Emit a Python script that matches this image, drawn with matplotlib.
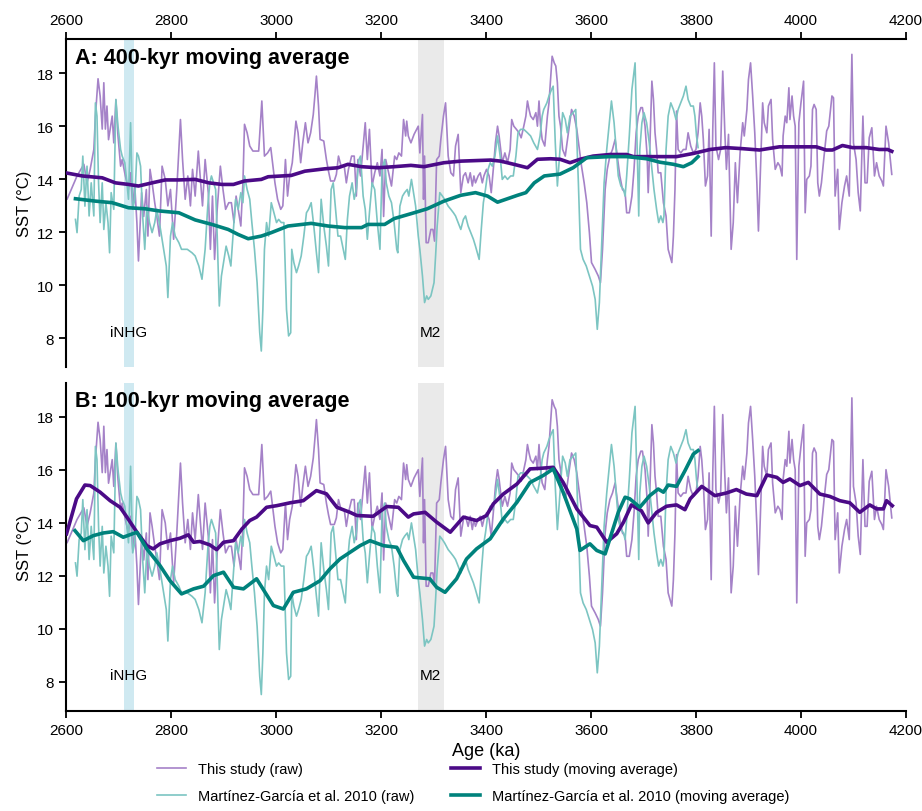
"""
SST records 2600-4200 ka: raw data with 400-kyr and 100-kyr moving averages
"""

import matplotlib
matplotlib.use("Agg")
import matplotlib.pyplot as plt
import numpy as np

plt.rcParams['font.family'] = ['Liberation Sans', 'DejaVu Sans']

# --- This study, raw SST (age ka, degC) ---
this_raw_age = [
    2600, 2602, 2621, 2634, 2640, 2646, 2653, 2656, 2661, 2665, 2669, 2672, 2675, 2678, 2681, 2688,
    2691, 2695, 2699, 2704, 2707, 2713, 2719, 2723, 2727, 2731, 2735, 2738, 2744, 2748, 2753, 2756,
    2760, 2764, 2769, 2773, 2778, 2783, 2789, 2794, 2799, 2805, 2811, 2818, 2822, 2827, 2832, 2837,
    2841, 2846, 2852, 2856, 2860, 2865, 2871, 2875, 2879, 2883, 2888, 2894, 2899, 2904, 2910, 2915,
    2920, 2924, 2928, 2933, 2937, 2940, 2945, 2950, 2956, 2967, 2973, 2978, 2984, 2990, 2998, 3003,
    3009, 3013, 3018, 3022, 3026, 3031, 3038, 3042, 3047, 3051, 3056, 3061, 3066, 3071, 3074, 3077,
    3081, 3084, 3091, 3096, 3100, 3104, 3111, 3115, 3119, 3124, 3130, 3134, 3138, 3144, 3149, 3153,
    3156, 3161, 3166, 3170, 3174, 3178, 3183, 3188, 3193, 3198, 3202, 3205, 3209, 3213, 3220, 3226,
    3230, 3234, 3239, 3243, 3247, 3249, 3252, 3257, 3263, 3271, 3274, 3279, 3281, 3283, 3286, 3290,
    3295, 3299, 3302, 3306, 3311, 3314, 3319, 3323, 3328, 3333, 3338, 3342, 3347, 3352, 3357, 3361,
    3366, 3370, 3374, 3377, 3380, 3385, 3389, 3393, 3396, 3401, 3406, 3410, 3415, 3418, 3422, 3425,
    3428, 3431, 3436, 3441, 3446, 3449, 3453, 3458, 3463, 3467, 3472, 3476, 3479, 3482, 3485, 3490,
    3495, 3498, 3501, 3504, 3507, 3512, 3517, 3520, 3523, 3526, 3530, 3533, 3536, 3539, 3542, 3546,
    3551, 3557, 3563, 3568, 3573, 3578, 3582, 3587, 3592, 3597, 3601, 3608, 3614, 3618, 3622, 3627,
    3631, 3636, 3641, 3646, 3650, 3655, 3660, 3665, 3668, 3673, 3678, 3682, 3686, 3690, 3695, 3698,
    3703, 3707, 3709, 3712, 3716, 3719, 3722, 3725, 3728, 3733, 3738, 3743, 3747, 3754, 3757, 3760,
    3763, 3766, 3771, 3776, 3781, 3785, 3790, 3795, 3800, 3804, 3808, 3811, 3814, 3818, 3822, 3825,
    3829, 3832, 3835, 3838, 3843, 3847, 3851, 3855, 3858, 3862, 3867, 3871, 3875, 3879, 3884, 3889,
    3892, 3897, 3900, 3904, 3908, 3912, 3916, 3919, 3922, 3927, 3930, 3935, 3938, 3943, 3946, 3951,
    3956, 3960, 3964, 3966, 3970, 3973, 3977, 3979, 3983, 3986, 3989, 3992, 3996, 4000, 4005, 4008,
    4011, 4016, 4019, 4022, 4025, 4029, 4032, 4035, 4039, 4044, 4049, 4053, 4059, 4062, 4065, 4070,
    4073, 4078, 4083, 4087, 4092, 4097, 4100, 4105, 4109, 4113, 4118, 4122, 4126, 4130, 4135, 4140,
    4144, 4149, 4154, 4157, 4162, 4167, 4173,
]
this_raw_sst = [
    13.3, 13.25, 14.13, 14.57, 13.87, 14.38, 15.13, 16.39, 17.8, 17.15, 15.9, 17.65, 15.9, 16.77, 15.5, 16.39,
    15.38, 17.0, 15.64, 14.5, 14.75, 14.13, 13.62, 14.25, 13.0, 13.75, 12.37, 10.92, 13.5, 12.6, 13.62, 11.86,
    14.38, 13.87, 13.12, 12.6, 11.86, 14.5, 14.0, 13.0, 13.62, 11.74, 13.62, 16.26, 14.75, 13.25, 14.13, 13.0,
    14.38, 13.37, 15.07, 14.0, 13.0, 14.75, 13.5, 11.36, 13.37, 10.98, 12.87, 14.5, 13.62, 12.87, 13.12, 13.12,
    12.37, 13.37, 12.87, 12.24, 13.87, 16.08, 15.76, 15.26, 15.07, 15.07, 16.96, 14.88, 15.0, 15.2, 13.87, 13.25,
    12.87, 13.0, 14.75, 13.37, 14.13, 14.63, 16.2, 15.76, 14.63, 15.38, 16.14, 15.38, 15.76, 16.45, 17.15, 17.9,
    16.77, 15.51, 15.45, 14.75, 14.31, 13.94, 13.94, 14.19, 14.88, 14.5, 14.5, 13.87, 14.38, 14.88, 14.88, 13.37,
    14.75, 14.13, 15.26, 16.14, 14.75, 15.89, 13.75, 14.25, 14.63, 14.13, 15.13, 12.6, 14.75, 14.38, 13.75, 14.88,
    14.75, 15.0, 14.88, 16.26, 15.64, 16.2, 15.64, 15.38, 15.7, 16.01, 15.0, 16.45, 13.25, 14.88, 11.61, 11.61,
    12.11, 12.11, 11.67, 14.75, 14.88, 15.51, 16.39, 16.89, 14.88, 14.25, 14.13, 15.26, 15.7, 13.5, 14.13, 14.25,
    13.87, 14.25, 13.75, 14.13, 13.87, 14.13, 14.25, 13.87, 14.13, 14.38, 14.13, 13.5, 14.63, 15.38, 16.01, 15.64,
    15.13, 14.63, 15.0, 14.63, 15.13, 16.26, 16.01, 15.89, 15.76, 15.57, 16.01, 16.39, 16.96, 16.64, 16.39, 16.26,
    16.52, 16.01, 16.96, 16.01, 15.51, 15.26, 16.39, 16.89, 17.77, 18.65, 18.4, 18.28, 17.65, 16.39, 16.01, 15.13,
    14.88, 15.76, 16.64, 16.39, 15.89, 15.13, 14.5, 13.87, 13.12, 11.99, 10.86, 10.6, 10.35, 10.1, 11.36, 13.62,
    14.38, 14.88, 15.13, 15.51, 14.88, 14.13, 13.62, 13.5, 12.74, 12.74, 13.37, 14.38, 15.76, 16.39, 16.71, 16.71,
    16.01, 14.88, 13.5, 15.13, 17.71, 17.02, 15.76, 15.13, 14.25, 14.25, 13.12, 12.62, 11.36, 10.86, 11.86, 13.62,
    16.58, 15.13, 15.0, 15.13, 15.13, 15.76, 15.26, 15.0, 15.13, 15.76, 16.89, 16.39, 15.51, 13.75, 14.13, 15.89,
    11.86, 15.89, 18.4, 15.26, 14.75, 15.13, 18.09, 15.76, 14.38, 15.7, 11.36, 12.37, 14.63, 13.12, 15.0, 16.14,
    15.64, 16.64, 17.77, 18.4, 17.15, 15.76, 13.87, 12.05, 13.87, 16.89, 16.14, 15.76, 16.77, 17.02, 15.51, 14.38,
    14.63, 14.5, 14.13, 15.64, 16.39, 16.14, 17.46, 16.26, 17.15, 16.39, 16.01, 10.98, 16.14, 16.89, 17.71, 12.74,
    14.0, 14.13, 14.5, 16.64, 16.83, 16.64, 13.87, 13.37, 13.87, 14.88, 15.83, 16.01, 17.15, 17.08, 13.37, 14.38,
    12.11, 13.12, 13.75, 14.13, 13.37, 18.72, 15.38, 14.75, 13.5, 12.81, 16.39, 13.87, 13.87, 15.57, 15.95, 14.13,
    14.63, 14.13, 13.94, 13.75, 16.01, 15.38, 14.19,
]

# --- Martinez-Garcia et al. 2010, raw SST ---
mg_raw_age = [
    2618, 2621, 2625, 2629, 2632, 2636, 2640, 2644, 2648, 2653, 2656, 2659, 2662, 2665, 2669, 2672,
    2676, 2680, 2683, 2686, 2691, 2695, 2699, 2704, 2707, 2712, 2716, 2719, 2723, 2727, 2731, 2735,
    2738, 2742, 2746, 2750, 2754, 2759, 2764, 2769, 2773, 2780, 2786, 2791, 2794, 2799, 2803, 2808,
    2815, 2820, 2831, 2840, 2846, 2853, 2859, 2865, 2870, 2874, 2877, 2881, 2885, 2888, 2892, 2896,
    2900, 2905, 2910, 2914, 2918, 2923, 2928, 2933, 2937, 2940, 2945, 2950, 2954, 2959, 2964, 2969,
    2972, 2975, 2978, 2982, 2986, 2991, 2996, 3001, 3005, 3010, 3015, 3020, 3024, 3028, 3030, 3034,
    3039, 3043, 3048, 3053, 3058, 3062, 3067, 3072, 3077, 3081, 3086, 3091, 3096, 3100, 3105, 3109,
    3113, 3118, 3123, 3128, 3132, 3136, 3140, 3145, 3149, 3153, 3158, 3161, 3166, 3170, 3174, 3178,
    3183, 3188, 3193, 3198, 3202, 3207, 3210, 3215, 3220, 3225, 3230, 3232, 3236, 3241, 3245, 3250,
    3253, 3258, 3262, 3266, 3271, 3274, 3279, 3283, 3287, 3290, 3295, 3298, 3301, 3304, 3307, 3312,
    3317, 3321, 3328, 3333, 3338, 3342, 3347, 3352, 3357, 3361, 3366, 3371, 3376, 3380, 3387, 3391,
    3395, 3399, 3404, 3408, 3412, 3417, 3422, 3427, 3431, 3436, 3441, 3447, 3452, 3457, 3461, 3466,
    3472, 3479, 3485, 3491, 3498, 3503, 3507, 3510, 3516, 3520, 3525, 3528, 3532, 3536, 3541, 3546,
    3551, 3555, 3560, 3566, 3571, 3576, 3580, 3585, 3591, 3597, 3603, 3608, 3612, 3616, 3620, 3625,
    3630, 3635, 3639, 3644, 3648, 3652, 3657, 3662, 3665, 3668, 3673, 3678, 3681, 3684, 3687, 3691,
    3693, 3697, 3701, 3706, 3711, 3716, 3720, 3725, 3729, 3733, 3737, 3739, 3743, 3747, 3752, 3757,
    3762, 3766, 3771, 3776, 3781, 3785, 3790, 3795, 3798, 3801, 3804,
]
mg_raw_sst = [
    12.49, 11.99, 13.37, 13.62, 14.88, 12.99, 14.5, 12.62, 13.87, 12.62, 16.89, 16.39, 13.87, 12.37, 13.87, 12.11,
    13.12, 12.37, 11.23, 13.5, 12.87, 17.02, 16.01, 15.13, 14.88, 14.63, 13.87, 13.25, 16.14, 12.87, 13.25, 15.0,
    14.88, 14.5, 12.62, 11.36, 13.0, 12.37, 11.99, 12.37, 12.87, 12.11, 11.36, 10.73, 9.54, 11.86, 12.37, 11.86,
    11.61, 11.36, 11.36, 11.23, 11.11, 10.73, 10.23, 11.36, 12.99, 13.87, 14.13, 13.87, 13.62, 11.86, 9.22, 10.35,
    10.86, 11.48, 11.11, 10.73, 11.86, 13.25, 12.87, 13.5, 13.12, 14.13, 13.62, 13.25, 12.37, 11.36, 10.1, 8.21,
    7.52, 9.09, 11.36, 12.37, 11.86, 13.12, 12.74, 12.37, 12.49, 12.37, 12.37, 9.09, 8.09, 8.21, 11.36, 10.86,
    10.48, 10.73, 11.11, 11.86, 12.74, 12.87, 13.12, 12.24, 11.23, 10.48, 13.25, 12.24, 11.48, 10.73, 13.62, 13.87,
    12.99, 11.86, 11.86, 11.36, 10.98, 12.49, 13.37, 13.87, 13.25, 13.62, 14.75, 14.88, 13.37, 12.87, 11.74, 12.74,
    13.87, 13.62, 12.37, 11.36, 14.38, 14.75, 13.87, 13.37, 13.12, 12.37, 11.36, 11.23, 12.99, 13.37, 13.5, 13.62,
    13.37, 14.0, 13.5, 12.99, 11.86, 11.36, 10.35, 9.35, 9.6, 9.47, 9.6, 9.85, 10.1, 11.11, 12.24, 13.5,
    13.37, 13.25, 12.99, 12.87, 12.74, 12.62, 12.37, 12.11, 12.49, 12.62, 12.24, 11.99, 11.74, 11.48, 10.98, 12.11,
    13.12, 13.62, 14.38, 14.63, 14.5, 14.88, 15.64, 14.88, 14.0, 14.13, 14.0, 14.13, 14.13, 14.88, 15.76, 15.89,
    15.89, 15.76, 15.64, 15.38, 15.13, 15.64, 16.39, 16.64, 16.89, 17.15, 17.4, 17.52, 15.38, 13.75, 15.13, 16.52,
    16.26, 15.76, 16.39, 16.52, 16.64, 13.87, 11.36, 10.98, 10.73, 10.35, 9.97, 9.47, 8.34, 9.35, 11.36, 13.87,
    15.13, 16.14, 16.96, 16.14, 15.13, 14.13, 13.75, 13.62, 13.37, 14.13, 15.64, 17.4, 17.9, 18.4, 16.01, 12.62,
    15.13, 16.14, 16.52, 16.14, 15.38, 14.38, 13.62, 12.87, 12.37, 12.62, 12.37, 12.62, 15.13, 16.39, 16.89, 16.64,
    16.26, 16.64, 16.89, 17.15, 17.52, 17.02, 16.77, 16.77, 16.39, 15.64, 15.2,
]

# --- 400-kyr moving averages ---
this_ma400_age = [
    2599, 2631, 2669, 2694, 2719, 2738, 2764, 2789, 2815, 2846, 2872, 2897, 2919, 2940, 2972, 2985,
    3029, 3055, 3093, 3118, 3137, 3163, 3194, 3225, 3257, 3282, 3320, 3352, 3409, 3428, 3453, 3479,
    3498, 3523, 3541, 3560, 3579, 3604, 3636, 3668, 3681, 3731, 3763, 3795, 3827, 3857, 3889, 3921,
    3959, 4029, 4048, 4060, 4079, 4098, 4124, 4149, 4165, 4173,
]
this_ma400_sst = [
    14.25, 14.13, 14.06, 13.87, 13.81, 13.75, 13.87, 13.98, 13.98, 14.0, 13.87, 13.81, 13.81, 13.94, 14.0, 14.1,
    14.15, 14.31, 14.4, 14.44, 14.57, 14.48, 14.44, 14.48, 14.53, 14.48, 14.63, 14.69, 14.73, 14.69, 14.57, 14.44,
    14.76, 14.78, 14.76, 14.63, 14.76, 14.88, 14.94, 14.94, 14.86, 14.86, 14.86, 14.98, 15.13, 15.2, 15.16, 15.11,
    15.23, 15.23, 15.11, 15.11, 15.28, 15.2, 15.2, 15.13, 15.13, 15.06,
]
mg_ma400_age = [
    2618, 2656, 2688, 2719, 2751, 2777, 2815, 2846, 2878, 2909, 2928, 2947, 2972, 2991, 3023, 3067,
    3099, 3131, 3163, 3175, 3207, 3225, 3263, 3288, 3320, 3352, 3380, 3403, 3422, 3441, 3460, 3476,
    3492, 3511, 3541, 3566, 3592, 3636, 3668, 3706, 3731, 3757, 3776, 3792, 3804,
]
mg_ma400_sst = [
    13.27, 13.18, 13.12, 12.93, 12.89, 12.81, 12.74, 12.47, 12.3, 12.11, 11.92, 11.76, 11.86, 11.99, 12.24, 12.34,
    12.24, 12.18, 12.18, 12.3, 12.3, 12.52, 12.74, 12.89, 13.18, 13.4, 13.5, 13.37, 13.14, 13.27, 13.4, 13.5,
    13.87, 14.13, 14.2, 14.44, 14.82, 14.86, 14.86, 14.78, 14.65, 14.57, 14.48, 14.63, 14.86,
]

# --- 100-kyr moving averages ---
this_ma100_age = [
    2601, 2620, 2636, 2646, 2665, 2684, 2703, 2716, 2735, 2754, 2766, 2779, 2798, 2817, 2833, 2843,
    2855, 2874, 2887, 2900, 2919, 2935, 2950, 2963, 2982, 3001, 3027, 3052, 3077, 3096, 3116, 3141,
    3154, 3185, 3211, 3233, 3252, 3262, 3284, 3306, 3332, 3357, 3382, 3401, 3414, 3433, 3459, 3484,
    3503, 3528, 3547, 3573, 3598, 3611, 3630, 3649, 3662, 3677, 3696, 3709, 3725, 3744, 3763, 3779,
    3789, 3811, 3836, 3858, 3877, 3896, 3916, 3935, 3954, 3966, 3979, 3998, 4014, 4036, 4055, 4074,
    4093, 4112, 4131, 4144, 4157, 4163, 4174,
]
this_ma100_sst = [
    13.59, 14.91, 15.43, 15.41, 15.16, 14.84, 14.59, 14.22, 13.65, 13.14, 13.02, 13.21, 13.33, 13.42, 13.55, 13.27,
    13.3, 13.17, 12.99, 13.27, 13.33, 13.77, 14.09, 14.22, 14.59, 14.65, 14.76, 14.84, 15.22, 15.1, 14.59, 14.4,
    14.28, 14.25, 14.62, 14.59, 14.22, 14.34, 14.4, 14.03, 13.65, 14.22, 14.09, 14.28, 14.72, 15.09, 15.47, 16.04,
    16.06, 16.1, 15.53, 14.53, 13.9, 13.84, 13.27, 13.59, 14.03, 14.68, 14.46, 14.0, 14.4, 14.63, 14.68, 14.5,
    14.91, 15.38, 15.03, 15.13, 15.26, 15.09, 15.03, 15.81, 15.72, 15.53, 15.66, 15.41, 15.53, 15.09, 15.0, 14.84,
    14.76, 14.4, 14.68, 14.53, 14.53, 14.84, 14.65,
]
mg_ma100_age = [
    2617, 2633, 2652, 2671, 2690, 2709, 2735, 2754, 2779, 2798, 2820, 2843, 2862, 2881, 2900, 2919,
    2938, 2963, 2995, 3014, 3033, 3058, 3084, 3103, 3122, 3141, 3160, 3179, 3205, 3230, 3243, 3262,
    3293, 3306, 3322, 3344, 3363, 3382, 3408, 3433, 3459, 3484, 3509, 3528, 3547, 3573, 3579, 3598,
    3611, 3627, 3639, 3652, 3665, 3674, 3693, 3712, 3728, 3738, 3747, 3763, 3779, 3795, 3804,
]
mg_ma100_sst = [
    13.71, 13.33, 13.52, 13.62, 13.67, 13.46, 13.65, 13.02, 12.39, 11.82, 11.32, 11.51, 11.61, 12.01, 12.14, 11.57,
    11.51, 11.89, 10.88, 10.75, 11.38, 11.51, 11.82, 12.27, 12.64, 12.89, 13.14, 13.33, 13.14, 13.08, 12.58, 11.95,
    11.89, 11.57, 11.38, 11.89, 12.64, 13.02, 13.4, 14.15, 14.78, 15.53, 15.79, 16.04, 15.16, 13.77, 12.96, 13.21,
    12.96, 12.83, 13.59, 14.4, 14.97, 14.91, 14.59, 15.03, 15.28, 15.16, 15.43, 15.38, 15.97, 16.6, 16.73,
]

# event bands (ka) and labels
events = [('iNHG', 2710, 2730, '#a8d8e6'), ('M2', 3270, 3320, '#d9d9d9')]
panel_titles = ['A: 400-kyr moving average', 'B: 100-kyr moving average']

COL_THIS_RAW = '#a582c8'
COL_THIS_MA = '#4b0a87'
COL_MG_RAW = '#7cc5c2'
COL_MG_MA = '#00827c'


def draw_panel(ax, title, ma_this, ma_mg):
    for name, start, end, color in events:
        ax.axvspan(start, end, color=color, alpha=0.55, lw=0, zorder=0)
        ax.text((start + end) / 2, 8.25, name, ha='center', va='center', fontsize=11)

    ax.plot(this_raw_age, this_raw_sst, color=COL_THIS_RAW, lw=1.2, zorder=2,
            label='This study (raw)')
    ax.plot(mg_raw_age, mg_raw_sst, color=COL_MG_RAW, lw=1.2, zorder=2,
            label='Martínez-García et al. 2010 (raw)')
    ax.plot(ma_this[0], ma_this[1], color=COL_THIS_MA, lw=2.6, zorder=3,
            label='This study (moving average)')
    ax.plot(ma_mg[0], ma_mg[1], color=COL_MG_MA, lw=2.6, zorder=3,
            label='Martínez-García et al. 2010 (moving average)')

    ax.text(0.011, 0.945, title, transform=ax.transAxes, fontsize=15.5,
            fontweight='bold', va='center', ha='left')

    ax.set_xlim(2600, 4200)
    ax.set_ylim(6.9, 19.3)
    ax.set_xticks(np.arange(2600, 4201, 200))
    ax.set_yticks(np.arange(8, 19, 2))
    ax.set_ylabel('SST (°C)', fontsize=12)
    ax.spines['right'].set_visible(False)
    for s in ax.spines.values():
        s.set_linewidth(1.5)
    ax.tick_params(width=1.3, length=5, labelsize=11)


fig, (ax1, ax2) = plt.subplots(2, 1, figsize=(9.22, 8.12), dpi=100)
plt.subplots_adjust(left=0.0716, right=0.9826, top=0.9507, bottom=0.1232, hspace=0.046)

draw_panel(ax1, panel_titles[0], (this_ma400_age, this_ma400_sst), (mg_ma400_age, mg_ma400_sst))
draw_panel(ax2, panel_titles[1], (this_ma100_age, this_ma100_sst), (mg_ma100_age, mg_ma100_sst))

# top panel: ticks on top, no bottom spine
ax1.spines['bottom'].set_visible(False)
ax1.xaxis.tick_top()
ax1.xaxis.set_label_position('top')
ax2.spines['top'].set_visible(False)
ax2.set_xlabel('Age (ka)', fontsize=13)

handles, labels = ax1.get_legend_handles_labels()
fig.legend(handles, labels, loc='lower center', bbox_to_anchor=(0.513, -0.006),
           ncol=2, frameon=False, fontsize=10.5, handlelength=2.0, columnspacing=2.5,
           labelspacing=0.9)

plt.savefig('out.png', dpi=100)
